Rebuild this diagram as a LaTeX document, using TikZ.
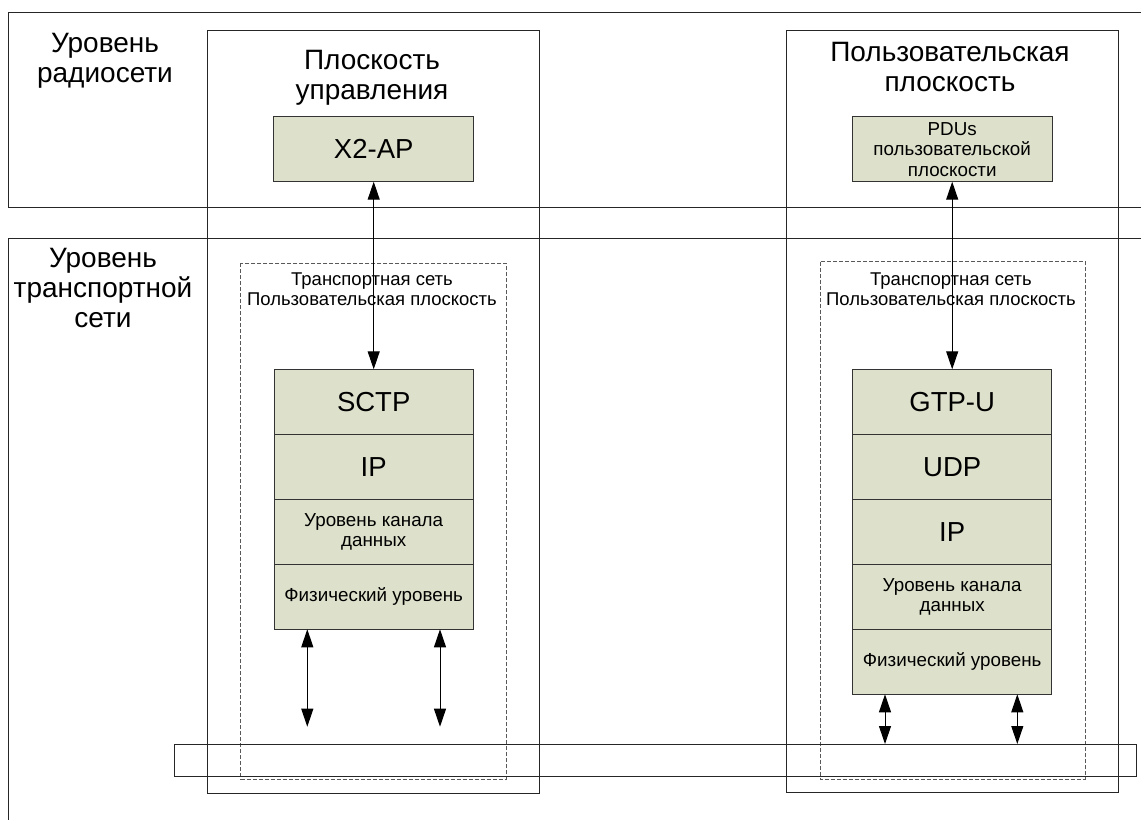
\documentclass[tikz,border=0pt]{standalone}
\usepackage{fontspec}
\setmainfont{Liberation Sans}
\usepackage{xcolor}
\usetikzlibrary{arrows.meta}
\usetikzlibrary{positioning}
\definecolor{stackfill}{RGB}{221,224,203}
\tikzset{
	layer/.style={draw=black!80,fill=stackfill,minimum width=199pt,minimum height=65pt,
		inner sep=0pt,outer sep=0pt,align=center},
	big layer/.style={layer,font=\fontsize{27.5}{30}\selectfont},
	small layer/.style={layer,font=\fontsize{18.8}{20.5}\selectfont},
	level text/.style={align=center,inner sep=0pt,anchor=north,font=\fontsize{28}{30}\selectfont},
	net text/.style={align=center,inner sep=0pt,anchor=north,font=\fontsize{18.5}{20}\selectfont},
	plane box/.style={draw=black!85},
	dash box/.style={draw=black!65,dash pattern=on 4pt off 2pt},
	arrow link/.style={<->}
}

\begin{document}
\begin{tikzpicture}[x=1pt,y=-1pt,line width=1pt,
		>={Triangle[length=18pt,width=12pt]}]
	\useasboundingbox (0,0) rectangle (1141,820);
	% levels
	\draw[plane box] (1141,12) -| (8,207) -- (1141,207);
	\draw[plane box] (1141,238) -| (8,820);
	\node[level text] (radio) at (105,33) {Уровень\\радиосети};
	\node[level text] (transport) at (103,248) {Уровень\\транспортной\\сети};
	% planes
	\draw[plane box] (207.7,30.7) rectangle (539,793);
	\draw[plane box] (786.7,30.7) rectangle (1118,792.7);
	\node[level text] (cplane) at (372,50) {Плоскость\\управления};
	\node[level text] (uplane) at (950,42) {Пользовательская\\плоскость};
	\draw[dash box] (240.7,263) rectangle (506,779);
	\draw[dash box] (820,261.7) rectangle (1085,779);
	\node[net text] (cnet) at (372,272) {Транспортная сеть\\Пользовательская плоскость};
	\node[net text] (unet) at (951,272) {Транспортная сеть\\Пользовательская плоскость};
	\node[draw=black!85,minimum width=962.4pt,minimum height=32pt,inner sep=0pt,outer sep=0pt]
		(bar) at (655.5,760) {};
	% control plane stack
	\node[big layer,minimum width=200pt] (x2ap) at (373.7,149.2) {X2-AP};
	\node[big layer] (sctp) at (373.7,401.8) {SCTP};
	\node[big layer,below=0pt of sctp] (ip) {IP};
	\node[small layer,below=0pt of ip] (datalink) {Уровень канала\\данных};
	\node[small layer,below=0pt of datalink] (phys) {Физический уровень};
	% user plane stack
	\node[small layer,minimum width=200pt] (pdu) at (952.2,149.2) {PDUs\\пользовательской\\плоскости};
	\node[big layer] (gtpu) at (952.2,401.8) {GTP-U};
	\node[big layer,below=0pt of gtpu] (udp) {UDP};
	\node[big layer,below=0pt of udp] (ip2) {IP};
	\node[small layer,below=0pt of ip2] (datalink2) {Уровень канала\\данных};
	\node[small layer,below=0pt of datalink2] (phys2) {Физический уровень};
	% arrows
	\draw[arrow link] (x2ap.south) -- (sctp.north);
	\draw[arrow link] (pdu.south) -- (gtpu.north);
	\coordinate (a1) at (307.3,726.7);
	\coordinate (a2) at (440,726.7);
	\draw[arrow link] (phys.south -| a1) -- (a1);
	\draw[arrow link] (phys.south -| a2) -- (a2);
	\coordinate (b1) at (885,744);
	\coordinate (b2) at (1017.3,744);
	\draw[arrow link] (phys2.south -| b1) -- (b1 |- bar.north);
	\draw[arrow link] (phys2.south -| b2) -- (b2 |- bar.north);
\end{tikzpicture}
\end{document}
